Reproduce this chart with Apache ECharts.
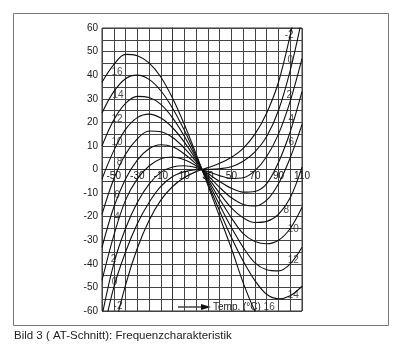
<!DOCTYPE html>
<html>
<head>
<meta charset="utf-8">
<script src="https://cdn.jsdelivr.net/npm/echarts@6/dist/echarts.min.js"></script>
<style>
  html, body { margin: 0; padding: 0; background: #fff; }
  #chart { width: 400px; height: 351px; }
</style>
</head>
<body>
<div id="chart"></div>
<script>
// Temperatur (°C)
const temps = [-60, -50, -40, -30, -20, -10, 0, 10, 20, 30, 40, 50, 60, 70, 80, 90, 100, 110];

// Frequenzabweichung (ppm) je Winkelabweichung (Bogenminuten)
const dev16 = [37, 44.5, 48.8, 48.2, 45.2, 39.2, 30.2, 19.1, 6.6, -6.7, -20.1, -33.5, -48, -60, -68, -72, -73, -71];
const dev14 = [24, 33, 38.5, 40, 38.2, 33.4, 26.0, 16.6, 5.7, -5.9, -17.6, -28.8, -38.8, -47.1, -52.9, -54.8, -53.5, -49.5];
const dev12 = [10, 21, 28, 31, 30.5, 27.6, 21.9, 14.1, 4.9, -5.0, -15.1, -24.6, -33.0, -39.6, -42.5, -43, -40, -33];
const dev10 = [-4, 8, 17, 22, 23.5, 21.8, 17.7, 11.6, 4.1, -4.2, -12.6, -20.5, -27.2, -30.5, -31.5, -30, -25, -16];
const dev8 = [-19, -4, 6.5, 13, 16.3, 16.0, 13.6, 9.1, 3.3, -3.4, -10.1, -16.3, -20.5, -22.5, -22, -19, -12, 1];
const dev6 = [-33, -16, -4, 4, 8.8, 10.5, 9.6, 6.6, 2.4, -2.5, -7.6, -12.0, -14.8, -15.5, -13, -6, 5, 19];
const dev4 = [-47, -28, -13, -4, 1.5, 4.6, 5.3, 4.1, 1.6, -1.7, -5.1, -8.0, -9.6, -9.3, -6, 3, 16, 33];
const dev2 = [-62, -40, -25, -14, -6.2, -1.2, 1.1, 1.6, 0.8, -0.9, -2.6, -3.8, -3.5, -0.5, 5.5, 15, 29, 47];
const dev0 = [-72, -50, -35, -23, -14, -7.2, -3.0, -0.9, -0.1, 0.0, 0.3, 1.2, 3.5, 7.5, 14, 25, 42, 64];
const devM2 = [-95, -69, -49, -33.4, -21.6, -13, -7.2, -3.4, -0.9, 0.8, 2.6, 5.2, 9, 15, 24, 37, 57, 80];

const curves = [dev16, dev14, dev12, dev10, dev8, dev6, dev4, dev2, dev0, devM2];

// Kurvenbeschriftung: [Temp, ppm, Text]
const curveLabels = [
  [-47.2, 41.1, '16'], [-46.4, 31.4, '14'], [-47.2, 21.4, '12'], [-47.2, 11.7, '10'],
  [-45.1, 3.2, '8'], [-47.2, -11, '6'], [-47.2, -20.1, '4'], [-50.2, -37.9, '2'],
  [-49.4, -47.7, '0'], [-46.4, -57.8, '-2'],
  [99.1, 56.8, '-2'], [100, 46.2, '0'], [99.1, 31.4, '2'], [100.9, 21.4, '4'], [100.9, 11.7, '6'],
  [96.6, -17.4, '8'], [102.6, -25.2, '10'], [102.6, -38.6, '12'], [102.6, -53.4, '14'],
  [82.1, -58.3, '16']
];

const FONT = '"Liberation Sans", Arial, Helvetica, sans-serif';
const chart = echarts.init(document.getElementById('chart'), null, { renderer: 'canvas' });

let series = curves.map(function (vals) {
  return {
    type: 'line',
    data: temps.map(function (t, i) { return [t, vals[i]]; }),
    smooth: 0.35,
    symbol: 'none',
    clip: true,
    silent: true,
    lineStyle: { color: '#111', width: 1.1 }
  };
});

series.push({
  type: 'scatter',
  data: curveLabels,
  symbolSize: 0,
  silent: true,
  label: {
    show: true,
    position: 'inside',
    formatter: function (p) { return p.data[2]; },
    fontFamily: FONT,
    fontSize: 10,
    color: '#1a1a1a'
  }
});

chart.setOption({
  animation: false,
  backgroundColor: '#fff',
  grid: {
    left: 102, right: 98, top: 28, bottom: 40,
    show: true, borderColor: '#333', borderWidth: 1
  },
  xAxis: {
    type: 'value',
    min: -60, max: 110, interval: 10,
    // Achse liegt auf der 0-Linie (Mitte des Rasters)
    offset: -141.5,
    axisLine: { show: true, onZero: false, lineStyle: { color: '#333', width: 1 } },
    axisTick: { show: false },
    axisLabel: {
      margin: 2,
      showMinLabel: true, showMaxLabel: true,
      fontFamily: FONT, fontSize: 10, color: '#1a1a1a',
      formatter: function (v) { return (v + 50) % 20 === 0 ? String(v) : ''; }
    },
    splitLine: { show: true, lineStyle: { color: '#444', width: 1 } }
  },
  yAxis: {
    type: 'value',
    min: -60, max: 60, interval: 5,
    axisLine: { show: true, lineStyle: { color: '#333' } },
    axisTick: { show: false },
    axisLabel: {
      margin: 4,
      showMinLabel: true, showMaxLabel: true,
      fontFamily: FONT, fontSize: 10, color: '#1a1a1a',
      formatter: function (v) { return v % 10 === 0 ? String(v) : ''; }
    },
    splitLine: { show: true, lineStyle: { color: '#444', width: 1 } }
  },
  series: series,
  graphic: [
    // Rahmen
    {
      type: 'rect', silent: true,
      shape: { x: 13.5, y: 13.5, width: 375, height: 312 },
      style: { fill: 'none', stroke: '#777', lineWidth: 1 }
    },
    // Pfeil "Temp."
    {
      type: 'line', silent: true,
      shape: { x1: 178, y1: 307, x2: 203, y2: 307 },
      style: { stroke: '#111', lineWidth: 1.2 }
    },
    {
      type: 'polygon', silent: true,
      shape: { points: [[201, 304], [211, 307], [201, 310]] },
      style: { fill: '#111' }
    },
    {
      type: 'text', silent: true, x: 213, y: 307,
      style: {
        text: 'Temp. (°C)', font: '10px ' + FONT,
        fill: '#1a1a1a', textVerticalAlign: 'middle'
      }
    },
    // Bildunterschrift
    {
      type: 'text', silent: true, x: 14, y: 336,
      style: {
        text: 'Bild 3 ( AT-Schnitt): Frequenzcharakteristik',
        font: '11.5px ' + FONT, fill: '#222', textVerticalAlign: 'middle'
      }
    }
  ]
});
</script>
</body>
</html>
